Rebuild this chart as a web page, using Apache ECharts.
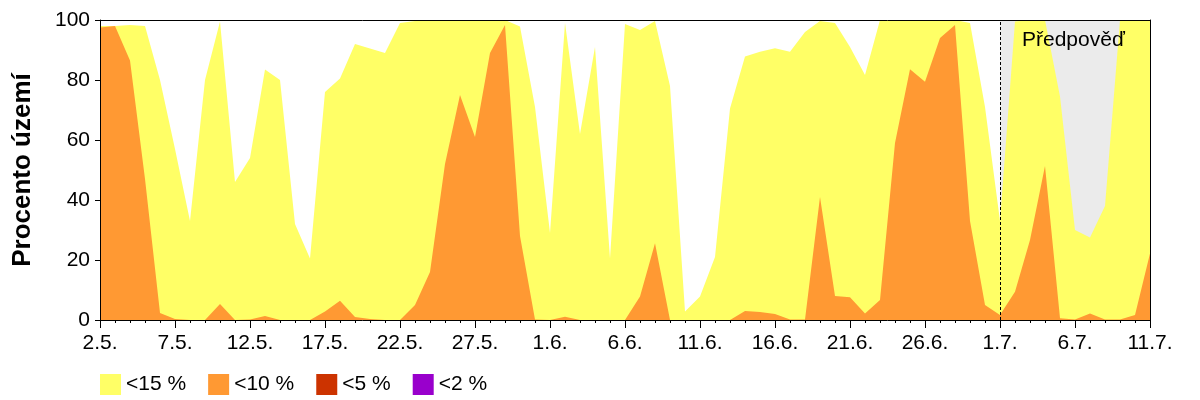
<!DOCTYPE html>
<html>
<head>
<meta charset="utf-8">
<script src="https://cdn.jsdelivr.net/npm/echarts@6/dist/echarts.min.js"></script>
<style>html,body{margin:0;padding:0;background:#fff}#c{width:1200px;height:400px}</style>
</head>
<body>
<div id="c"></div>
<script>
// Daily values from 2.5. to 11.7. (71 days)
var tickLabels = ['2.5.','7.5.','12.5.','17.5.','22.5.','27.5.','1.6.','6.6.','11.6.','16.6.','21.6.','26.6.','1.7.','6.7.','11.7.'];
var lt15 = [98,98,98.3,98,80,57,33,80,99.5,46,54,83.5,80,32,20.5,76,80.5,92,90.5,89,99,99.7,100,100,100,100,100,100,97.8,71,29,99,62,91,20.5,98.7,96.7,99.7,78,2.8,7.8,21,70.5,87.8,89.4,90.6,89.4,96,99.7,99,91,81.7,100,100,100,100,100,100,99,71,33,99.5,100,100,74.5,30,27.5,38,100,100,100];
var lt10 = [97.5,98,86.5,47,2.3,0.3,0,0,5.3,0,0.2,1.3,0,0,0,2.8,6.4,1,0.3,0,0,5,16,52,75,61,89,98.3,28,0.2,0,1.1,0,0,0,0,7.8,25.6,0,0,0,0,0,3,2.7,2,0.2,0.2,41,8,7.6,2.2,6.7,59,83.6,79.4,94,98.3,33,5,1.7,9.4,26.7,51.3,0.6,0.2,2.2,0.2,0.2,1.7,22.2];
var lt5 = [];
var lt2 = [];
var forecastStart = 60, forecastEnd = 70;
var forecastLabel = 'Předpověď';

var FONT = "'Liberation Sans', Arial, sans-serif";
function pairs(a){ return a.map(function(v,i){ return [i, v]; }); }

var chart = echarts.init(document.getElementById('c'), null, {renderer:'canvas'});
chart.setOption({
  animation: false,
  backgroundColor: '#fff',
  grid: {left: 100, right: 50, top: 20, bottom: 80, show: false},
  legend: {
    left: 100, top: 374, padding: 0, itemWidth: 21, itemHeight: 21, itemGap: 22, icon: 'rect',
    data: ['<15 %','<10 %','<5 %','<2 %'],
    textStyle: {fontFamily: FONT, fontSize: 21, color: '#000'}
  },
  xAxis: [{
    type: 'value', min: 0, max: 70, interval: 5, z: 10,
    axisLine: {show: true, onZero: false, lineStyle: {color: '#000', width: 1}},
    axisTick: {show: true, length: 8, lineStyle: {color: '#000'}},
    minorTick: {show: true, splitNumber: 5, length: 3, lineStyle: {color: '#000'}},
    splitLine: {show: false},
    axisLabel: {margin: 13, fontFamily: FONT, fontSize: 21, color: '#000',
      formatter: function(v){ return tickLabels[Math.round(v/5)] || ''; }}
  }, {
    type: 'value', min: 0, max: 70, position: 'top', z: 10,
    axisLine: {show: true, onZero: false, lineStyle: {color: '#000', width: 1}},
    axisTick: {show: false}, axisLabel: {show: false}, splitLine: {show: false}
  }],
  yAxis: [{
    type: 'value', min: 0, max: 100, interval: 20, z: 10,
    name: 'Procento území', nameLocation: 'middle', nameGap: 64,
    nameTextStyle: {fontFamily: FONT, fontSize: 26, fontWeight: 'bold', color: '#000'},
    axisLine: {show: true, onZero: false, lineStyle: {color: '#000', width: 1}},
    axisTick: {show: true, length: 5, lineStyle: {color: '#000'}},
    splitLine: {show: false},
    axisLabel: {margin: 10, fontFamily: FONT, fontSize: 21, color: '#000'}
  }, {
    type: 'value', min: 0, max: 100, position: 'right', z: 10,
    axisLine: {show: true, onZero: false, lineStyle: {color: '#000', width: 1}},
    axisTick: {show: false}, axisLabel: {show: false}, splitLine: {show: false}
  }],
  series: [
    {name: 'forecast', type: 'line', data: pairs(lt15), z: 1, silent: true, showSymbol: false,
      lineStyle: {opacity: 0}, itemStyle: {opacity: 0},
      markArea: {silent: true, itemStyle: {color: '#ebebeb'}, data: [[{xAxis: forecastStart}, {xAxis: forecastEnd}]]}},
    {name: '<15 %', type: 'line', data: pairs(lt15), z: 2, showSymbol: false, symbol: 'none',
      lineStyle: {width: 0}, itemStyle: {color: '#ffff66'}, areaStyle: {color: '#ffff66', opacity: 1}},
    {name: '<10 %', type: 'line', data: pairs(lt10), z: 3, showSymbol: false, symbol: 'none',
      lineStyle: {width: 0}, itemStyle: {color: '#ff9933'}, areaStyle: {color: '#ff9933', opacity: 1}},
    {name: '<5 %', type: 'line', data: lt5, z: 4, showSymbol: false, symbol: 'none',
      lineStyle: {width: 0}, itemStyle: {color: '#cc3300'}, areaStyle: {color: '#cc3300', opacity: 1}},
    {name: '<2 %', type: 'line', data: lt2, z: 5, showSymbol: false, symbol: 'none',
      lineStyle: {width: 0}, itemStyle: {color: '#9900cc'}, areaStyle: {color: '#9900cc', opacity: 1},
      markLine: {silent: true, symbol: 'none', label: {show: false},
        lineStyle: {color: '#000', type: [3, 2], width: 1},
        data: [{xAxis: forecastStart}]}}
  ],
  graphic: [{type: 'text', left: 1022, top: 30, z: 100,
    style: {text: forecastLabel, font: "21px 'Liberation Sans', Arial, sans-serif", fill: '#000'}}]
});
</script>
</body>
</html>
